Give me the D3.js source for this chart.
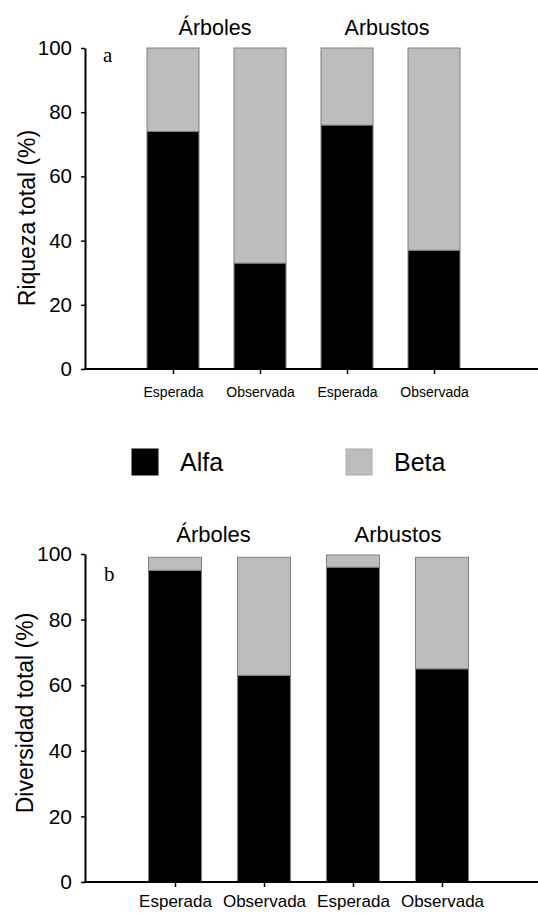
<!DOCTYPE html>
<html>
<head>
<meta charset="utf-8">
<script src="https://cdn.jsdelivr.net/npm/d3@7"></script>
<style>
  body { margin: 0; background: #fff; }
  text { font-family: "Liberation Sans", Arial, sans-serif; fill: #000; }
  .panel-letter { font-family: "Liberation Serif", "Times New Roman", serif; }
</style>
</head>
<body>
<div id="chart"></div>
<script>
// Data
const groups = ['Árboles', 'Arbustos']
const categories = ['Esperada', 'Observada', 'Esperada', 'Observada']
const riquezaAlfa = [74, 33, 76, 37]
const riquezaBeta = [26, 67, 24, 63]
const diversidadAlfa = [95, 63, 96, 65]
const diversidadBeta = [4, 36, 3.7, 34]
const yTicks = [0, 20, 40, 60, 80, 100]
const seriesNames = ['Alfa', 'Beta']

const width = 538
const height = 914
const colors = { Alfa: '#000000', Beta: '#bdbdbd' }

const svg = d3.select('#chart')
  .append('svg')
  .attr('width', width)
  .attr('height', height)

// draw one stacked-bar panel
function drawPanel(opts) {
  const y = d3.scaleLinear().domain([0, 100]).range([opts.yBottom, opts.yTop])
  const x = d3.scalePoint().domain(d3.range(categories.length)).range(opts.xRange)

  const rows = categories.map((c, i) => ({ i, Alfa: opts.alfa[i], Beta: opts.beta[i] }))
  const stacked = d3.stack().keys(seriesNames)(rows)

  const g = svg.append('g')

  g.selectAll('g.series')
    .data(stacked)
    .enter().append('g')
    .attr('class', 'series')
    .attr('fill', d => colors[d.key])
    .selectAll('rect')
    .data(d => d)
    .enter().append('rect')
    .attr('x', d => x(d.data.i) - opts.barWidth / 2)
    .attr('width', opts.barWidth)
    .attr('y', d => y(d[1]))
    .attr('height', d => y(d[0]) - y(d[1]))
    .attr('stroke', '#808080')
    .attr('stroke-width', 1)

  // y axis
  const yAxis = g.append('g')
    .attr('transform', `translate(${opts.axisX},0)`)
    .call(d3.axisLeft(y).tickValues(yTicks).tickSize(4).tickSizeOuter(0).tickPadding(9))
  yAxis.select('.domain').attr('stroke-width', 2)
  yAxis.selectAll('.tick line').attr('stroke-width', 1.5)
  yAxis.selectAll('.tick text')
    .style('font-size', opts.tickFont + 'px')
    .attr('fill', '#000')

  // x axis
  const xAxis = g.append('g')
    .attr('transform', `translate(0,${opts.yBottom})`)
    .call(d3.axisBottom(x).tickSize(5).tickPadding(opts.catPad).tickFormat(i => categories[i]))
  xAxis.select('.domain').remove()
  xAxis.selectAll('.tick line').attr('stroke-width', 1.5)
  xAxis.selectAll('.tick text')
    .style('font-size', opts.catFont + 'px')
    .attr('fill', '#000')
  g.append('line')
    .attr('x1', opts.axisX - 1).attr('x2', width)
    .attr('y1', opts.yBottom).attr('y2', opts.yBottom)
    .attr('stroke', '#000').attr('stroke-width', 2)

  // group titles
  g.selectAll('text.group')
    .data(groups)
    .enter().append('text')
    .attr('class', 'group')
    .attr('x', (d, k) => (x(2 * k) + x(2 * k + 1)) / 2 + opts.groupShift[k])
    .attr('y', opts.groupY)
    .attr('text-anchor', 'middle')
    .style('font-size', opts.groupFont + 'px')
    .text(d => d)

  // y label
  g.append('text')
    .attr('transform', `translate(${opts.labelX},${opts.labelY}) rotate(-90)`)
    .attr('text-anchor', 'middle')
    .attr('dominant-baseline', 'central')
    .style('font-size', '23px')
    .text(opts.yLabel)

  // panel letter
  g.append('text')
    .attr('class', 'panel-letter')
    .attr('x', opts.letterX)
    .attr('y', opts.letterY)
    .style('font-size', '21px')
    .text(opts.letter)
}

drawPanel({
  alfa: riquezaAlfa, beta: riquezaBeta,
  yTop: 48, yBottom: 369, xRange: [173, 434], barWidth: 52, axisX: 85,
  tickFont: 20.5, catFont: 14, catPad: 13, groupFont: 21.5, groupY: 35, groupShift: [-1.5, -3.5],
  yLabel: 'Riqueza total (%)', labelX: 27, labelY: 218,
  letter: 'a', letterX: 103, letterY: 62
})

drawPanel({
  alfa: diversidadAlfa, beta: diversidadBeta,
  yTop: 554, yBottom: 882, xRange: [175, 442], barWidth: 53, axisX: 85,
  tickFont: 21, catFont: 17, catPad: 8, groupFont: 22, groupY: 542, groupShift: [-6, 0.5],
  yLabel: 'Diversidad total (%)', labelX: 25, labelY: 713,
  letter: 'b', letterX: 104, letterY: 581
})

// Legend
const legend = svg.append('g').attr('class', 'legend')
const legendX = d3.scaleOrdinal().domain(seriesNames).range([132, 346])
const item = legend.selectAll('g')
  .data(seriesNames)
  .enter().append('g')
  .attr('transform', d => `translate(${legendX(d)},449)`)
item.append('rect')
  .attr('width', 26).attr('height', 26)
  .attr('fill', d => colors[d])
  .attr('stroke', d => d === 'Beta' ? '#aaa' : '#000')
item.append('text')
  .attr('x', 48).attr('y', 22)
  .style('font-size', '25px')
  .text(d => d)
</script>
</body>
</html>
